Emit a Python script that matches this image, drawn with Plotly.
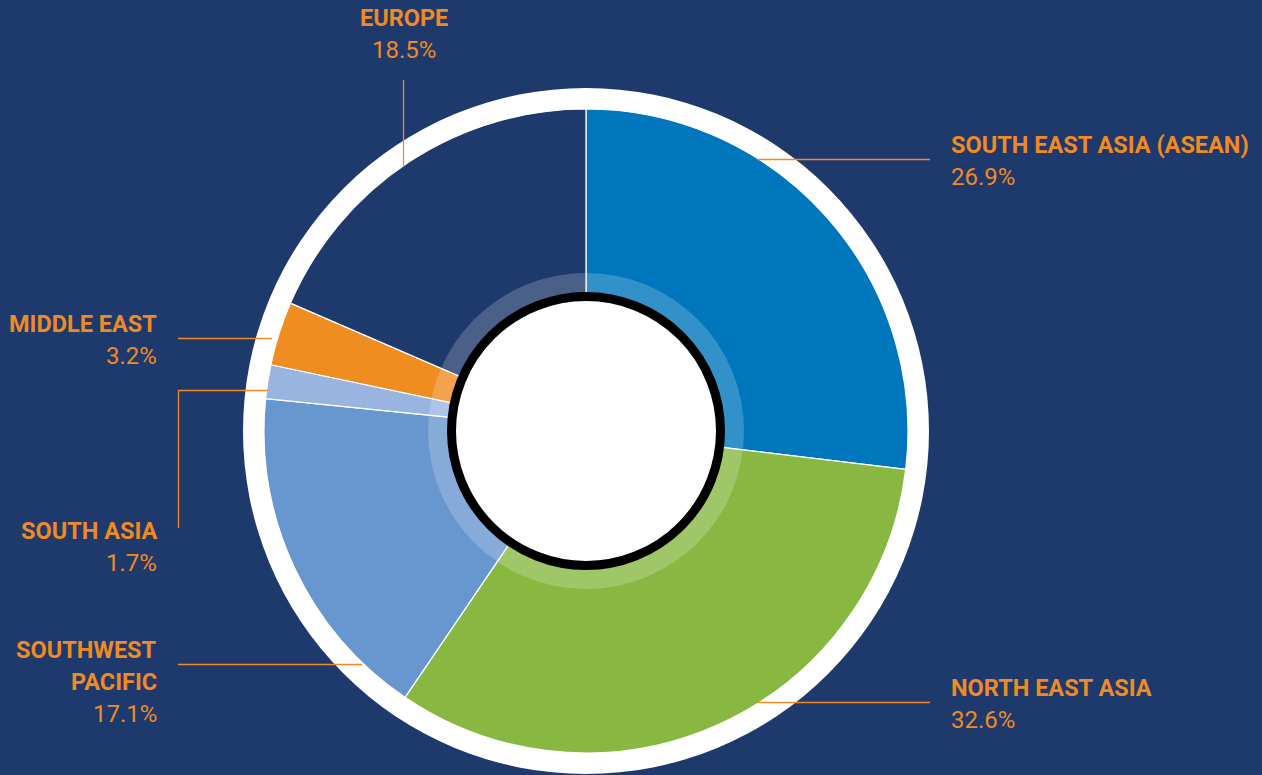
import plotly.graph_objects as go

# ---- data ----
regions = ["SOUTH EAST ASIA (ASEAN)", "NORTH EAST ASIA", "SOUTHWEST PACIFIC",
           "SOUTH ASIA", "MIDDLE EAST", "EUROPE"]
shares = [26.9, 32.6, 17.1, 1.7, 3.2, 18.5]
slice_colors = ["#0076BD", "#88B842", "#6896CF", "#9AB4E2", "#F08D21", "#1E396B"]

W, H = 1262, 775
BG = "#1E396B"
ORANGE = "#F08A24"
LINE = "#F08A24"
CX, CY, R = 586, 431, 322


def px(x):
    return x / W


def py(y):
    return 1 - y / H


def circle(r, **kw):
    return dict(type="circle", xref="paper", yref="paper",
                x0=px(CX - r), x1=px(CX + r), y0=py(CY + r), y1=py(CY - r), **kw)


def seg(x0, y0, x1, y1):
    return dict(type="line", xref="paper", yref="paper", layer="above",
                x0=px(x0), y0=py(y0), x1=px(x1), y1=py(y1),
                line=dict(color=LINE, width=1.3))


fig = go.Figure(go.Pie(
    labels=regions, values=shares, sort=False, direction="clockwise", rotation=0,
    marker=dict(colors=slice_colors, line=dict(color="white", width=1.2)),
    textinfo="none", hoverinfo="label+percent", showlegend=False,
    domain=dict(x=[px(CX - R), px(CX + R)], y=[py(CY + R), py(CY - R)]),
))

shapes = [
    circle(343, layer="below", fillcolor="white", line=dict(width=0)),
    circle(158, layer="above", fillcolor="rgba(255,255,255,0.2)", line=dict(width=0)),
    circle(134.5, layer="above", fillcolor="white", line=dict(color="black", width=9)),
    # leader lines
    seg(403.5, 80, 403.5, 166),        # Europe
    seg(757, 159.5, 930, 159.5),       # SE Asia
    seg(178, 338.5, 272, 338.5),       # Middle East
    seg(178.5, 528, 178.5, 390),       # South Asia vertical
    seg(178, 390.5, 268, 390.5),       # South Asia horizontal
    seg(178, 664.5, 362, 664.5),       # SW Pacific
    seg(757, 702.5, 930, 702.5),       # NE Asia
]

FONT = "Roboto"
layout_pos = {
    "EUROPE": (404, "center", 18),
    "SOUTH EAST ASIA (ASEAN)": (949, "left", 145),
    "MIDDLE EAST": (159, "right", 324),
    "SOUTH ASIA": (159, "right", 531),
    "SOUTHWEST PACIFIC": (159, "right", 650),
    "NORTH EAST ASIA": (949, "left", 688),
}
line_breaks = {"SOUTHWEST PACIFIC": ["SOUTHWEST", "PACIFIC"]}

annotations = []
for name, val in zip(regions, shares):
    x, anchor, y = layout_pos[name]
    lines = line_breaks.get(name, [name])
    for i, ln in enumerate(lines):
        annotations.append(dict(
            x=px(x), y=py(y + 32 * i), xref="paper", yref="paper", showarrow=False,
            xanchor=anchor, yanchor="middle", text=f"<b>{ln}</b>",
            font=dict(family=FONT, size=23.5, color=ORANGE)))
    annotations.append(dict(
        x=px(x), y=py(y + 32 * len(lines)), xref="paper", yref="paper", showarrow=False,
        xanchor=anchor, yanchor="middle", text=f"{val:.1f}%",
        font=dict(family=FONT, size=24, color=ORANGE)))

fig.update_layout(
    width=W, height=H, margin=dict(l=0, r=0, t=0, b=0),
    paper_bgcolor=BG, plot_bgcolor=BG,
    shapes=shapes, annotations=annotations,
)

fig.write_html(
    "out.html",
    config={"displayModeBar": False},
    post_script="document.body.style.margin='0';document.body.style.background='" + BG + "';",
)
